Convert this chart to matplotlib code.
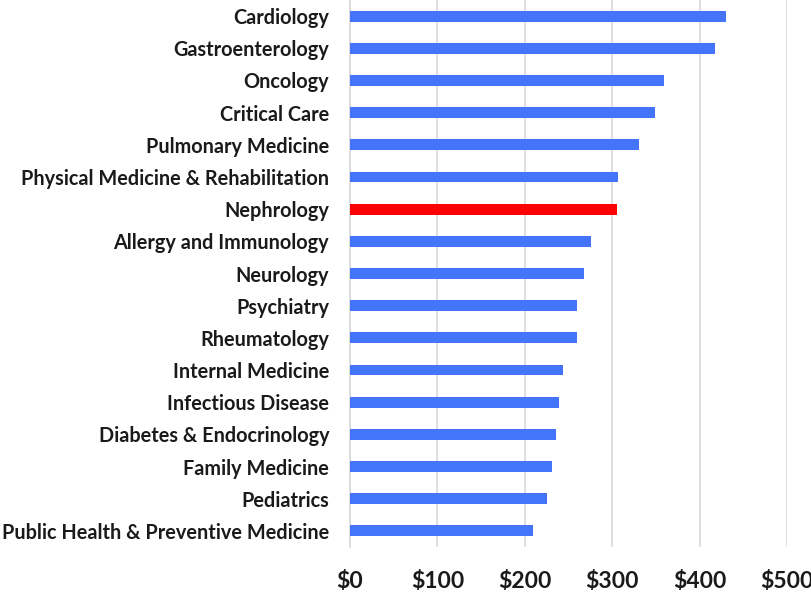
import matplotlib
matplotlib.use("Agg")
import matplotlib.pyplot as plt
from matplotlib.ticker import FuncFormatter

# data (top to bottom)
specialties = [
    "Cardiology", "Gastroenterology", "Oncology", "Critical Care",
    "Pulmonary Medicine", "Physical Medicine & Rehabilitation", "Nephrology",
    "Allergy and Immunology", "Neurology", "Psychiatry", "Rheumatology",
    "Internal Medicine", "Infectious Disease", "Diabetes & Endocrinology",
    "Family Medicine", "Pediatrics", "Public Health & Preventive Medicine",
]
values = [430, 417, 359, 349, 331, 306, 305, 275, 267, 260, 259,
          243, 239, 236, 231, 225, 209]
highlight = "Nephrology"
xticks = [0, 100, 200, 300, 400, 500]

plt.rcParams['font.family'] = ['Lato', 'DejaVu Sans']

fig = plt.figure(figsize=(8.12, 5.92), dpi=100)
ax = fig.add_axes([350/812, 45/592, 437.3/812, 547/592])

colors = ["#FF0000" if s == highlight else "#4474FA" for s in specialties]
ypos = list(range(len(specialties)))[::-1]
ax.barh(ypos, values, height=0.34, color=colors, zorder=3)

ax.set_xlim(0, 500)
ax.set_ylim(-0.5, len(specialties) - 0.5)
ax.set_xticks(xticks)
ax.xaxis.set_major_formatter(FuncFormatter(lambda v, p: "$%d" % v))
ax.set_yticks(ypos)
ax.set_yticklabels(specialties)

ax.grid(axis="x", color="#D9D9D9", linewidth=1.2, zorder=0)
for s in ["top", "right", "bottom"]:
    ax.spines[s].set_visible(False)
ax.spines["left"].set_color("#D9D9D9")
ax.spines["left"].set_linewidth(1.2)
ax.tick_params(axis="y", length=0, pad=15, labelsize=14.3)
ax.tick_params(axis="x", length=0, pad=17, labelsize=16.5)
for lab in ax.get_yticklabels() + ax.get_xticklabels():
    lab.set_fontweight("bold")
    lab.set_color("#1a1a1a")

fig.savefig("out.png", dpi=100)
